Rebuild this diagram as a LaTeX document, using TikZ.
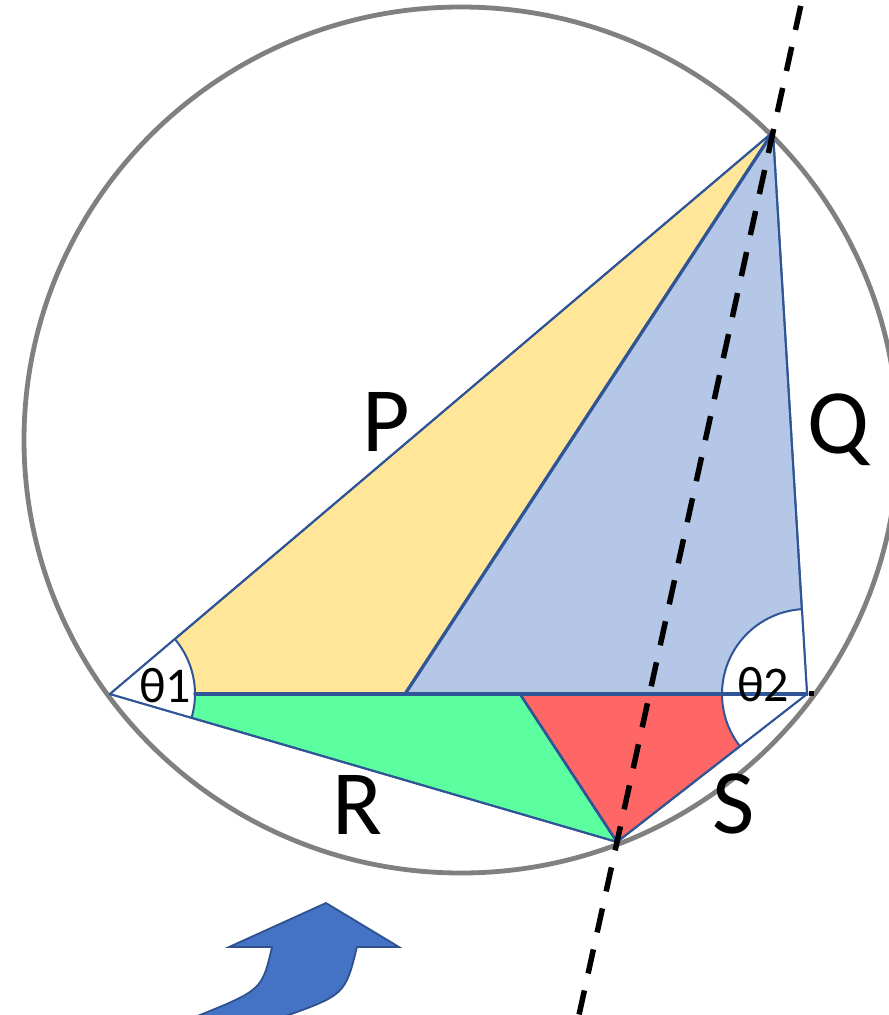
\documentclass[tikz,border=0pt]{standalone}
\usepackage{fontspec}
\setmainfont{Carlito}
\usetikzlibrary{calc}
\definecolor{edgeblue}{HTML}{2F5597}
\definecolor{ringgray}{HTML}{808080}
\definecolor{yellowfill}{HTML}{FFE699}
\definecolor{bluefill}{HTML}{B4C7E7}
\definecolor{greenfill}{HTML}{5CFFA0}
\definecolor{redfill}{HTML}{FF6666}
\definecolor{arrowfill}{HTML}{4472C4}
\definecolor{arrowedge}{HTML}{2F528F}
\tikzset{
  face/.style={draw=edgeblue, line width=2pt, line join=round},
  thinedge/.style={draw=edgeblue, line width=2pt},
  thickedge/.style={draw=edgeblue, line width=3.3pt, line cap=round},
  ring/.style={draw=ringgray, line width=4.8pt},
  axisline/.style={draw=black, line width=5.5pt, dash pattern=on 24.6pt off 17.4pt, dash phase=25.7pt},
  biglabel/.style={font=\fontsize{92}{92}\selectfont, anchor=base, inner sep=0pt},
  anglelabel/.style={font=\fontsize{50}{50}\selectfont, anchor=base, inner sep=0pt},
  bigarrow/.style={fill=arrowfill, draw=arrowedge, line width=1.8pt, line join=miter}
}
\begin{document}
\begin{tikzpicture}[x=1pt,y=-1pt]
\useasboundingbox (0,0) rectangle (889,1015);
\clip (0,0) rectangle (889,1015);
\coordinate (A) at (773,132);
\coordinate (B) at (110,694);
\coordinate (C) at (807,694);
\coordinate (D) at (617,842);
\coordinate (E) at (405,694);
\coordinate (F) at (520,694);
% circle
\draw[ring] (461,440) ellipse [x radius=437, y radius=433];
% faces
\path[face, fill=yellowfill] (B) -- (A) -- (E) -- cycle;
\path[face, fill=bluefill] (E) -- (A) -- (C) -- cycle;
\path[face, fill=greenfill] (B) -- (F) -- (D) -- cycle;
\path[face, fill=redfill] (F) -- (C) -- (D) -- cycle;
% angle sectors
\fill[white] (B) -- ([shift={(B)}]-40.29:85) arc[start angle=-40.29, end angle=16.27, radius=85] -- cycle;
\draw[thinedge] ([shift={(B)}]-40.29:85) arc[start angle=-40.29, end angle=16.27, radius=85];
\fill[white] (C) -- ([shift={(C)}]142.08:85) arc[start angle=142.08, end angle=266.54, radius=85] -- cycle;
\draw[thinedge] ([shift={(C)}]142.08:85) arc[start angle=142.08, end angle=266.54, radius=85];
% edges over sectors
\draw[thinedge, line join=round] (B) -- (A) -- (C) -- (D) -- (B);
\draw[thickedge] ([shift={(B)}]0:85) -- (C);
\draw[thickedge] (A) -- (E);
\draw[edgeblue, line width=2.6pt] (F) -- (D);
\fill[black] (809,691) rectangle (814,696);
% dashed axis
\coordinate (T) at ($(A)!-0.2!(D)$);
\coordinate (U) at ($(A)!1.3!(D)$);
\draw[axisline] (T) -- (U);
% labels
\node[biglabel] (lp) at (386,451) {P};
\node[biglabel] (lq) at (838,453) {Q};
\node[biglabel] (lr) at (357,834) {R};
\node[biglabel] (ls) at (734,833) {S};
\node[anglelabel] (t1) at (165,702) {θ1};
\node[anglelabel] (t2) at (763,701) {θ2};
% curved arrow
\path[bigarrow] (326,903) -- (399,947) -- (357,947) .. controls (345,995) .. (280,1018) -- (244,1032) -- (159,1032) -- (195,1017) .. controls (262,990) .. (272,947) -- (229,947) -- cycle;
\end{tikzpicture}
\end{document}
